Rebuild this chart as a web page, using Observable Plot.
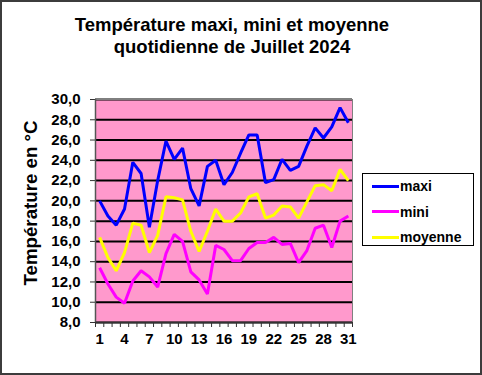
<!DOCTYPE html>
<html>
<head>
<meta charset="utf-8">
<script src="https://cdn.jsdelivr.net/npm/d3@7"></script>
<script src="https://cdn.jsdelivr.net/npm/@observablehq/plot@0.6"></script>
<style>
  html, body { margin: 0; padding: 0; background: white; }
  #wrap { position: relative; width: 482px; height: 375px; overflow: hidden; font-family: "Liberation Sans", Arial, sans-serif; }
  #border { position: absolute; left: 0; top: 0; width: 482px; height: 375px; box-sizing: border-box; border: 2px solid #3c3c3c; pointer-events: none; }
  #title { position: absolute; left: 0; top: 13.5px; width: 464px; text-align: center; font-weight: bold; font-size: 18.5px; line-height: 22px; color: black; }
  #legend { position: absolute; left: 362px; top: 173px; width: 112px; height: 73px; box-sizing: border-box; border: 1px solid black; background: white; }
  .item { position: absolute; left: 9px; height: 16px; display: flex; align-items: center; font-weight: bold; font-size: 14px; color: black; }
  .item span.sw { display: inline-block; width: 27px; height: 3px; margin-right: 1px; }
  #chart { position: absolute; left: 0; top: 0; }
</style>
</head>
<body>
<div id="wrap">
  <div id="chart"></div>
  <div id="title">Température maxi, mini et moyenne<br>quotidienne de Juillet 2024</div>
  <div id="legend"></div>
  <div id="border"></div>
</div>
<script>
const days = [1,2,3,4,5,6,7,8,9,10,11,12,13,14,15,16,17,18,19,20,21,22,23,24,25,26,27,28,29,30,31];
const maxi = [20.0,18.5,17.6,19.2,23.8,22.7,17.4,22.0,25.9,24.1,25.2,21.2,19.5,23.4,24.0,21.6,22.8,24.7,26.5,26.5,21.8,22.1,24.1,23.0,23.4,25.4,27.2,26.2,27.3,29.2,27.7];
const mini = [13.4,11.8,10.5,9.9,12.1,13.1,12.5,11.5,14.8,16.7,16.0,13.0,12.2,10.8,15.6,15.2,14.1,14.1,15.3,15.9,15.9,16.4,15.7,15.8,13.9,15.1,17.3,17.6,15.4,18.0,18.5];
const moyenne = [16.4,14.4,13.1,14.9,17.8,17.6,14.9,16.6,20.4,20.3,20.1,17.0,15.0,17.0,19.2,18.0,18.0,18.8,20.4,20.7,18.3,18.6,19.5,19.4,18.3,19.9,21.5,21.6,21.0,23.1,22.0];
const seriesNames = ["maxi", "mini", "moyenne"];
const seriesColors = ["#0000FF", "#FF00FF", "#FFFF00"];
const yTicks = [8,10,12,14,16,18,20,22,24,26,28,30];
const xTickLabels = [1,4,7,10,13,16,19,22,25,28,31];

const seriesValues = [maxi, mini, moyenne];
const data = [];
seriesNames.forEach((name, s) => {
  days.forEach((d, i) => data.push({day: d, value: seriesValues[s][i], series: name}));
});
const edges = [...days.map(d => d - 0.5), days[days.length - 1] + 0.5];

const chart = Plot.plot({
  width: 482,
  height: 375,
  marginLeft: 95,
  marginRight: 130,
  marginTop: 99,
  marginBottom: 53,
  style: {fontFamily: "'Liberation Sans', Arial, sans-serif", fontWeight: "bold", fontSize: "15px", background: "transparent", color: "black"},
  x: {domain: [0.5, 31.5]},
  y: {domain: [8, 30]},
  color: {domain: seriesNames, range: seriesColors},
  marks: [
    Plot.frame({fill: "#FF99CC"}),
    Plot.gridY(yTicks, {stroke: "black", strokeOpacity: 1, strokeWidth: 2}),
    Plot.frame({stroke: "#808080", strokeWidth: 1}),
    Plot.axisY(yTicks, {tickFormat: d => d.toFixed(1).replace(".", ","), tickSize: 5, tickPadding: 10, label: null, stroke: "#333"}),
    Plot.axisX(edges, {tickFormat: () => "", tickSize: 5, label: null, stroke: "#333"}),
    Plot.axisX(xTickLabels, {tickSize: 0, tickPadding: 11, label: null}),
    Plot.ruleX([0.5], {stroke: "#555", strokeWidth: 1.5}),
    Plot.ruleY([8], {stroke: "#333", strokeWidth: 1.5}),
    Plot.line(data, {x: "day", y: "value", z: "series", stroke: "series", strokeWidth: 3, strokeLinejoin: "miter", strokeLinecap: "butt"}),
    Plot.text(["Température en °C"], {frameAnchor: "left", textAnchor: "middle", text: d => d, rotate: -90, dx: -64, dy: -8, fontSize: 18.7, fontWeight: "bold", fill: "black"})
  ]
});
document.getElementById("chart").appendChild(chart);

const legend = document.getElementById("legend");
seriesNames.forEach((name, i) => {
  const it = document.createElement("div");
  it.className = "item";
  it.style.top = (4 + i * 25.5) + "px";
  const sw = document.createElement("span");
  sw.className = "sw";
  sw.style.background = seriesColors[i];
  it.appendChild(sw);
  it.appendChild(document.createTextNode(name));
  legend.appendChild(it);
});
</script>
</body>
</html>
